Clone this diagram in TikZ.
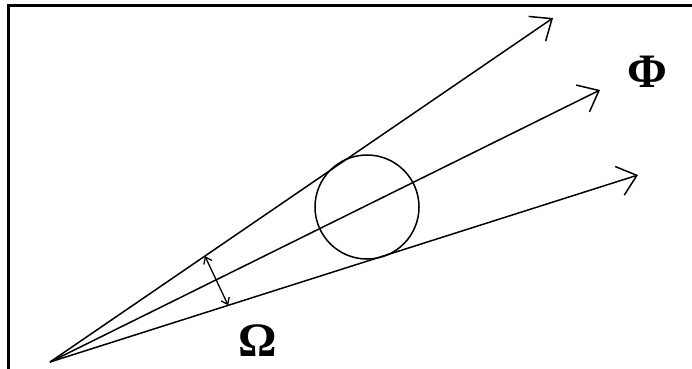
\documentclass[tikz,border=0pt]{standalone}
\usepackage{fontspec}
\setmainfont{Liberation Serif}
\usetikzlibrary{arrows.meta,calc}
\begin{document}
\begin{tikzpicture}[x=1pt,y=-1pt,
  ray/.style={line width=1.5pt,-{Straight Barb[length=18pt,width=30pt,line width=1.5pt]}},
  span/.style={line width=1.3pt,{Straight Barb[length=6pt,width=9pt]}-{Straight Barb[length=6pt,width=9pt]}},
  lbl/.style={font=\fontsize{48}{48}\selectfont\bfseries,inner sep=0pt}]
\useasboundingbox (0,0) rectangle (692,368);
\fill[white] (0,0) rectangle (692,368);
\draw[line width=3pt] (8,400) -- (8,5) -- (720,5);
\coordinate (O) at (50,362);
\coordinate (T1) at (553,18);
\coordinate (T2) at (600,90);
\coordinate (T3) at (638,175);
\node[draw,circle,line width=1.5pt,minimum size=104pt,inner sep=0pt] (C) at (367,207) {};
\draw[ray] (O) -- (T1);
\draw[ray] (O) -- (T2);
\draw[ray] (O) -- (T3);
\coordinate (A1) at ($(O)!0.308!(T1)$);
\coordinate (A2) at ($(O)!0.303!(T3)$);
\draw[span] (A1) -- (A2);
\node[lbl] (phi) at (647,72) {Φ};
\node[lbl] (omega) at (258,341) {Ω};
\end{tikzpicture}
\end{document}
